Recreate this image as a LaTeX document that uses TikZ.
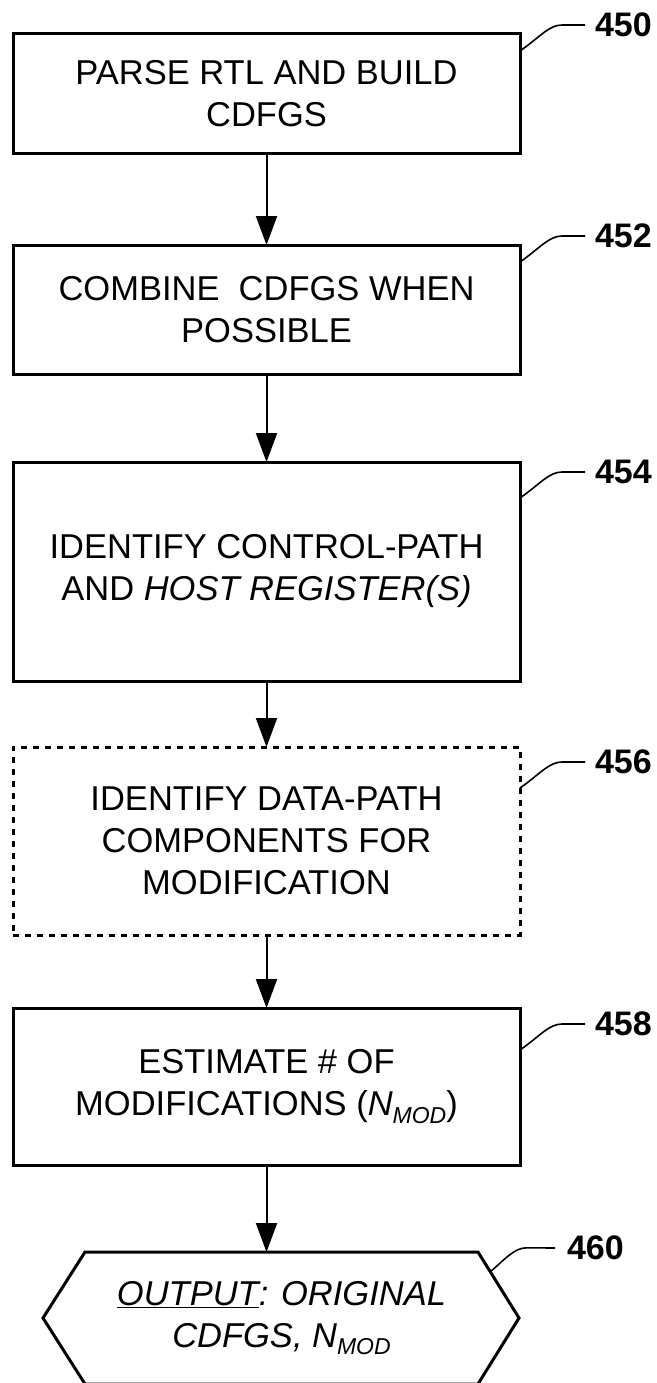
\documentclass[tikz,border=0pt]{standalone}
\usepackage{fontspec}
\setmainfont{Liberation Sans}
\usetikzlibrary{arrows.meta,calc}

% lowered small subscript used for N_MOD
\newcommand\lowsub[1]{\raisebox{-0.22em}{\fontsize{23}{23}\selectfont #1}}

\begin{document}
\begin{tikzpicture}[x=1pt,y=-1pt,
  txt/.style={font=\fontsize{34.5}{42}\selectfont, align=center},
  stepbox/.style={draw, line width=3pt, minimum width=507pt, inner sep=0pt, outer sep=0pt, txt},
  optbox/.style={stepbox, line width=3pt, dash pattern=on 6pt off 6pt},
  flow/.style={line width=2pt, -{Triangle[width=21pt,length=29pt]}},
  leader/.style={line width=1.6pt},
  refnum/.style={font=\fontsize{34}{34}\selectfont\bfseries, inner sep=0pt, outer sep=0pt, anchor=west},
]
\useasboundingbox (0,0) rectangle (656,1383);

% process steps
\node[stepbox, minimum height=120pt] (b450) at (266.5,94) {PARSE RTL AND BUILD\\CDFGS};
\node[stepbox, minimum height=129pt] (b452) at (266.5,309.5) {COMBINE\ \ CDFGS WHEN\\POSSIBLE};
\node[stepbox, minimum height=219pt] (b454) at (266.5,571.5) {IDENTIFY CONTROL-PATH\\AND \textit{HOST REGISTER(S)}};
\node[optbox, minimum height=188pt] (b456) at (266.5,841) {IDENTIFY DATA-PATH\\COMPONENTS FOR\\MODIFICATION};
\node[stepbox, minimum height=157pt] (b458) at (266.5,1086.5) {ESTIMATE \# OF\\MODIFICATIONS (\textit{N\lowsub{MOD}})};

% output hexagon
\node[txt, font=\fontsize{34.5}{42}\selectfont\itshape, minimum width=393pt, minimum height=132pt,
      inner sep=0pt, outer sep=0pt] (out) at (281.5,1318) {\underline{OUTPUT}: ORIGINAL\\CDFGS, N\lowsub{MOD}};
\coordinate (hexE) at ($(out.east)+(41,0)$);
\coordinate (hexW) at ($(out.west)+(-42,0)$);
\draw[line width=3pt, line join=miter] (out.north west) -- (out.north east) -- (hexE)
  -- (out.south east) -- (out.south west) -- (hexW) -- cycle;

% flow arrows
\draw[flow] (b450) -- (b452);
\draw[flow] (b452) -- (b454);
\draw[flow] (b454) -- (b456);
\draw[flow] (b456) -- (b458);
\draw[flow] (b458.south) -- (b458.south |- out.north);

% reference numerals
\node[refnum] (l450) at (595,25) {450};
\node[refnum] (l452) at (595,236) {452};
\node[refnum] (l454) at (595,472) {454};
\node[refnum] (l456) at (595,762) {456};
\node[refnum] (l458) at (595,1024) {458};
\node[refnum] (l460) at (567,1248) {460};

\foreach \n in {450,452,454,456,458}{
  \draw[leader] ($(b\n.east |- l\n.west)+(0,26)$) .. controls +(20,-14) and +(-13,0) .. +(42,-26)
    -- ([xshift=-10pt]l\n.west);
}
\draw[leader] ($(out.north east)!0.3!(hexE)$) .. controls +(14,-12) and +(-12,0) .. +(36,-24)
  -- ([xshift=-12pt]l460.west);
\end{tikzpicture}
\end{document}
